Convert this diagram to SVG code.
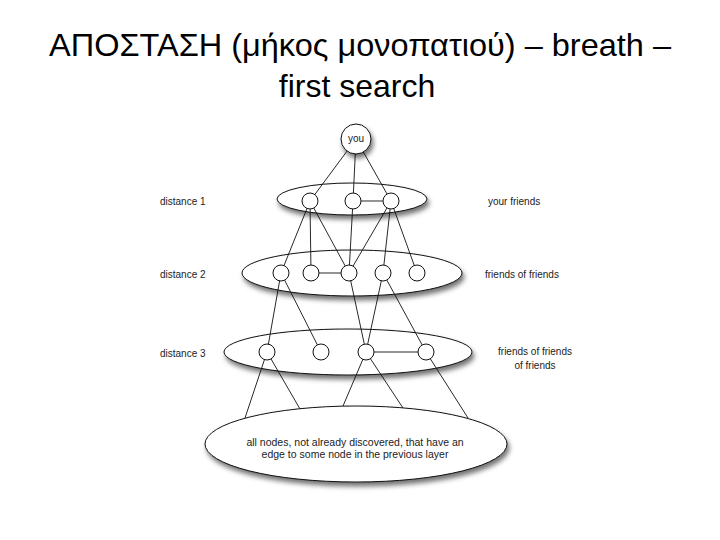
<svg xmlns="http://www.w3.org/2000/svg" width="720" height="540" viewBox="0 0 720 540">
<defs>
<filter id="sh" x="-20%" y="-40%" width="140%" height="190%">
<feDropShadow dx="2" dy="4" stdDeviation="2.5" flood-color="#000" flood-opacity="0.55"/>
</filter>
<style>
.title{font-family:"Liberation Sans","Noto Sans",sans-serif;font-size:32px;fill:#000;text-anchor:middle}
.lbl{font-family:"Liberation Sans",Arial,sans-serif;font-size:10px;fill:#222}
.mid{text-anchor:middle}
.layer{fill:#fff;stroke:#111;stroke-width:1;filter:url(#sh)}
.node{fill:#fff;stroke:#111;stroke-width:1}
.you{fill:#fff;stroke:#111;stroke-width:1;filter:url(#sh)}
.edge{stroke:#111;stroke-width:0.9;fill:none}
</style>
</defs>
<rect width="720" height="540" fill="#fff"/>
<g id="title">
<text class="title" x="360" y="56" textLength="622" lengthAdjust="spacingAndGlyphs">ΑΠΟΣΤΑΣΗ (μήκος μονοπατιού) – breath –</text>
<text class="title" x="357" y="97">first search</text>
</g>
<g id="labels">
<text class="lbl" x="160" y="205">distance 1</text>
<text class="lbl" x="160" y="278">distance 2</text>
<text class="lbl" x="160" y="357">distance 3</text>
<text class="lbl" x="488" y="205">your friends</text>
<text class="lbl" x="485" y="278">friends of friends</text>
<text class="lbl mid" x="535" y="355">friends of friends</text>
<text class="lbl mid" x="535" y="369">of friends</text>
</g>
<g id="layer1"><ellipse class="layer" cx="352" cy="199" rx="75" ry="16"/></g>
<g id="layer2"><ellipse class="layer" cx="352" cy="273" rx="110" ry="23"/></g>
<g id="layer3"><ellipse class="layer" cx="348" cy="352" rx="124" ry="23"/></g>
<g id="layer4">
<ellipse class="layer" cx="356" cy="444" rx="151" ry="38"/>
<text class="lbl mid" x="355" y="446" style="font-size:10.5px">all nodes, not already discovered, that have an</text>
<text class="lbl mid" x="355" y="458" style="font-size:10.5px">edge to some node in the previous layer</text>
</g>
<g id="connectors" class="edge">
<line x1="356" y1="139" x2="310" y2="201"/>
<line x1="356" y1="139" x2="353" y2="201"/>
<line x1="356" y1="139" x2="391" y2="201"/>
<line x1="353" y1="201" x2="391" y2="201"/>
<line x1="310" y1="201" x2="281" y2="273"/>
<line x1="310" y1="201" x2="311" y2="273"/>
<line x1="310" y1="201" x2="349" y2="273"/>
<line x1="353" y1="201" x2="349" y2="273"/>
<line x1="391" y1="201" x2="349" y2="273"/>
<line x1="391" y1="201" x2="383" y2="273"/>
<line x1="391" y1="201" x2="417" y2="273"/>
<line x1="311" y1="273" x2="349" y2="273"/>
<line x1="281" y1="273" x2="267" y2="352"/>
<line x1="281" y1="273" x2="321" y2="352"/>
<line x1="349" y1="273" x2="366" y2="352"/>
<line x1="383" y1="273" x2="366" y2="352"/>
<line x1="383" y1="273" x2="426" y2="352"/>
<line x1="366" y1="352" x2="426" y2="352"/>
<line x1="267" y1="352" x2="245" y2="418"/>
<line x1="267" y1="352" x2="300" y2="409"/>
<line x1="366" y1="352" x2="343" y2="406"/>
<line x1="366" y1="352" x2="403" y2="408"/>
<line x1="426" y1="352" x2="468" y2="418"/>
</g>
<g id="you"><circle class="you" cx="356" cy="139" r="15"/><text class="lbl mid" x="356" y="142">you</text></g>
<g id="n1a"><circle class="node" cx="310" cy="201" r="8"/></g>
<g id="n1b"><circle class="node" cx="353" cy="201" r="8"/></g>
<g id="n1c"><circle class="node" cx="391" cy="201" r="8"/></g>
<g id="n2a"><circle class="node" cx="281" cy="273" r="8"/></g>
<g id="n2b"><circle class="node" cx="311" cy="273" r="8"/></g>
<g id="n2c"><circle class="node" cx="349" cy="273" r="8"/></g>
<g id="n2d"><circle class="node" cx="383" cy="273" r="8"/></g>
<g id="n2e"><circle class="node" cx="417" cy="273" r="8"/></g>
<g id="n3a"><circle class="node" cx="267" cy="352" r="8"/></g>
<g id="n3b"><circle class="node" cx="321" cy="352" r="8"/></g>
<g id="n3c"><circle class="node" cx="366" cy="352" r="8"/></g>
<g id="n3d"><circle class="node" cx="426" cy="352" r="8"/></g>
</svg>
